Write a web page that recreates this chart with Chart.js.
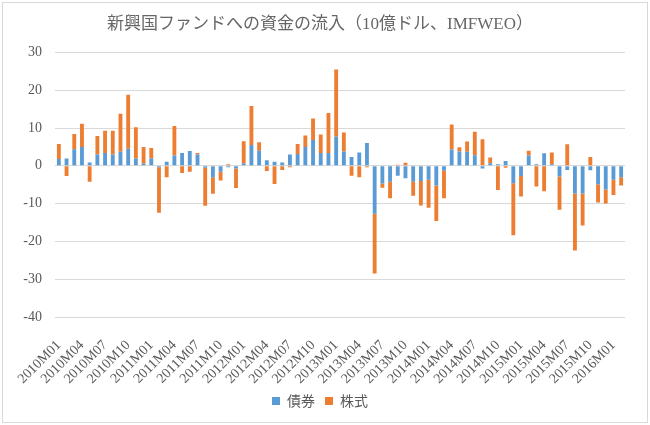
<!DOCTYPE html>
<html>
<head>
<meta charset="utf-8">
<script src="https://cdn.jsdelivr.net/npm/chart.js@4/dist/chart.umd.min.js"></script>
<style>
html,body{margin:0;padding:0;background:#fff;}
#wrap{position:relative;width:650px;height:425px;}
#frame{position:absolute;left:2px;top:2px;width:644px;height:419px;border:1px solid #d9d9d9;pointer-events:none;}
canvas{position:absolute;left:0;top:0;}
</style>
</head>
<body>
<div id="wrap">
<canvas id="c" width="650" height="425"></canvas>
<div id="frame"></div>
</div>
<script>
const titleText = '新興国ファンドへの資金の流入（10億ドル、IMFWEO）';
const seriesNames = ['債券', '株式'];
const months = [
 '2010M01','2010M02','2010M03','2010M04','2010M05','2010M06','2010M07','2010M08','2010M09','2010M10','2010M11','2010M12',
 '2011M01','2011M02','2011M03','2011M04','2011M05','2011M06','2011M07','2011M08','2011M09','2011M10','2011M11','2011M12',
 '2012M01','2012M02','2012M03','2012M04','2012M05','2012M06','2012M07','2012M08','2012M09','2012M10','2012M11','2012M12',
 '2013M01','2013M02','2013M03','2013M04','2013M05','2013M06','2013M07','2013M08','2013M09','2013M10','2013M11','2013M12',
 '2014M01','2014M02','2014M03','2014M04','2014M05','2014M06','2014M07','2014M08','2014M09','2014M10','2014M11','2014M12',
 '2015M01','2015M02','2015M03','2015M04','2015M05','2015M06','2015M07','2015M08','2015M09','2015M10','2015M11','2015M12',
 '2016M01','2016M02'
];
const bonds = [
 1.8, 1.9, 4.4, 5.0, 0.9, 3.0, 3.4, 3.0, 3.7, 4.5, 1.9, 0.6,
 1.9, -0.4, 1.1, 2.7, 3.4, 3.9, 3.0, -0.5, -3.0, -1.6, -0.4, -0.7,
 0.7, 5.5, 4.0, 1.5, 1.1, 0.9, 3.0, 3.1, 5.0, 6.8, 3.4, 3.4,
 7.7, 3.8, 2.3, 3.5, 6.0, -12.7, -4.7, -4.2, -2.6, -3.3, -4.2, -4.0,
 -3.7, -5.2, -1.3, 4.3, 3.8, 3.7, 2.8, -0.7, 0.7, 0.4, 1.3, -4.6,
 -2.7, 2.7, 0.4, 3.3, 0.4, -2.8, -1.1, -7.3, -7.3, -1.2, -4.9, -6.3,
 -3.7, -3.0
];
const equities = [
 4.0, -2.7, 4.0, 6.1, -4.2, 4.9, 5.9, 6.3, 10.1, 14.3, 8.3, 4.4,
 2.8, -12.0, -3.0, 7.8, -1.9, -1.6, 0.4, -10.1, -4.4, -2.3, 0.4, -5.2,
 5.8, 10.3, 2.2, -1.4, -4.8, -1.1, -0.4, 2.7, 3.0, 5.7, 4.9, 10.6,
 17.8, 5.0, -2.6, -3.0, -0.4, -15.8, -1.1, -4.4, 0.3, 0.8, -3.7, -6.5,
 -7.4, -9.4, -7.3, 6.6, 1.1, 2.7, 6.2, 7.0, 1.5, -6.4, -0.5, -13.8,
 -5.4, 1.3, -5.5, -6.7, 3.1, -8.8, 5.7, -15.1, -8.5, 2.3, -4.8, -3.7,
 -4.0, -2.2
];
const yMin = -40, yMax = 30, yStep = 10;

const serif = '"Liberation Serif", "Noto Sans CJK JP", serif';
const textColor = '#595959';

new Chart(document.getElementById('c'), {
  type: 'bar',
  data: {
    labels: months,
    datasets: [
      { label: seriesNames[0], data: bonds, backgroundColor: '#5B9BD5', borderWidth: 0, barPercentage: 0.5, categoryPercentage: 1.0 },
      { label: seriesNames[1], data: equities, backgroundColor: '#ED7D31', borderWidth: 0, barPercentage: 0.5, categoryPercentage: 1.0 }
    ]
  },
  options: {
    responsive: false,
    animation: false,
    devicePixelRatio: 1,
    layout: { padding: { left: 15, right: 25, top: 0, bottom: 7 } },
    plugins: {
      title: {
        display: true,
        text: titleText,
        color: '#666666',
        font: { family: serif, size: 17, weight: 'normal' },
        padding: { top: 14, bottom: 18 }
      },
      legend: {
        display: true,
        position: 'bottom',
        labels: {
          color: textColor,
          font: { family: '"Noto Sans CJK JP", sans-serif', size: 14 },
          boxWidth: 8,
          boxHeight: 8,
          padding: 10
        }
      },
      tooltip: { enabled: false }
    },
    scales: {
      x: {
        stacked: true,
        grid: { display: false },
        border: { display: false },
        ticks: {
          autoSkip: false,
          maxRotation: 45,
          minRotation: 45,
          padding: 12,
          color: textColor,
          font: { family: serif, size: 14 },
          callback: function(v, i) { return i % 3 === 0 ? this.getLabelForValue(v) : ''; }
        },
        afterFit: function(s) { s.height = 67; }
      },
      y: {
        stacked: true,
        min: yMin,
        max: yMax,
        grid: { color: '#d9d9d9', drawTicks: false, lineWidth: 1 },
        border: { display: false },
        ticks: {
          stepSize: yStep,
          padding: 13,
          color: textColor,
          font: { family: serif, size: 14 }
        },
        afterFit: function(s) { s.width = 40; }
      }
    }
  }
});
</script>
</body>
</html>
